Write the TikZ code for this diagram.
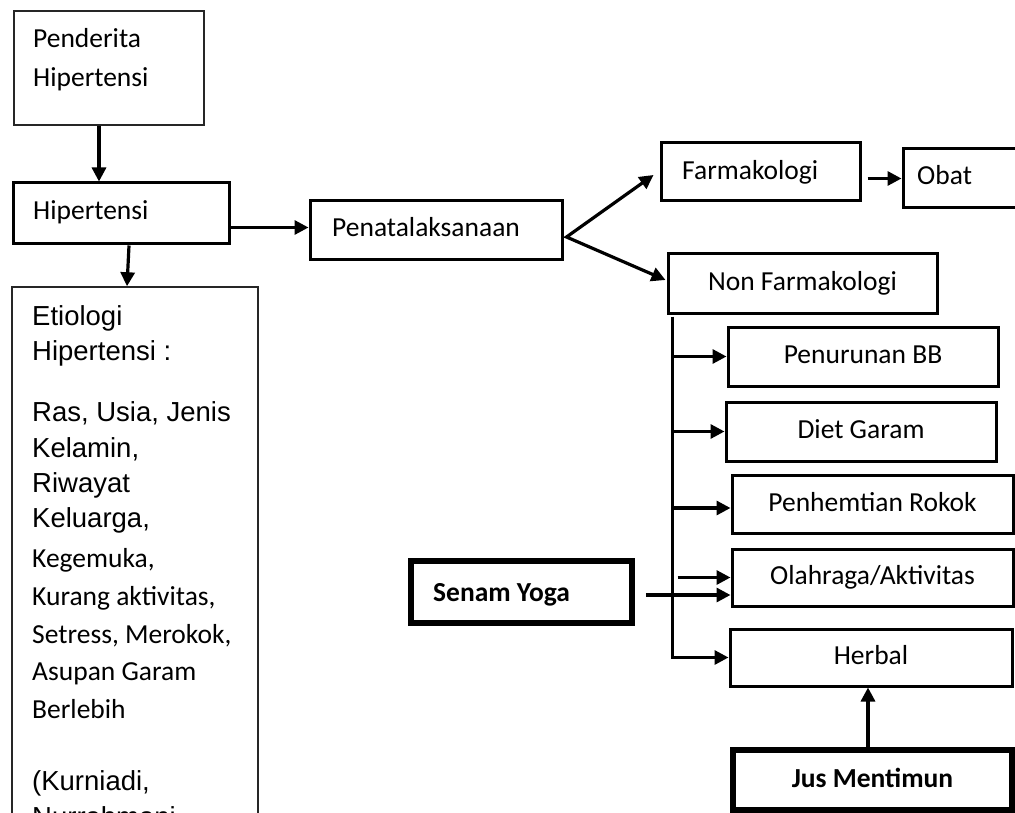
\documentclass[tikz,border=0pt]{standalone}
\usepackage{fontspec}
\setmainfont{Carlito}
\newfontfamily\arialf{Liberation Sans}
\usetikzlibrary{arrows.meta,calc}
\begin{document}
\begin{tikzpicture}[x=1pt,y=-1pt,
  font=\fontsize{27.5}{33}\selectfont,
  box/.style={draw,line width=3pt,inner sep=0pt},
  thinbox/.style={draw,black!85,line width=1.5pt,inner sep=0pt},
  thickbox/.style={draw,line width=5.5pt,inner sep=0pt},
  lbl/.style={inner sep=0pt,anchor=base west},
  mid/.style={text height=17pt,text depth=3pt},
  bf/.style={font=\fontsize{27.5}{33}\selectfont\bfseries},
  ar/.style={font=\arialf\fontsize{27.5}{33}\selectfont},
  arr/.style={line width=3.2pt,-{Triangle[length=14pt,width=14pt]}},
  arr2/.style={line width=3.2pt,{Triangle[length=14pt,width=14pt]}-{Triangle[length=14pt,width=14pt]}}
]
\useasboundingbox (0,0) rectangle (1015,813);
\clip (0,0) rectangle (1015,813);

% left column
\node[thinbox,minimum width=190pt,minimum height=114pt] (pd) at (109,68) {};
\node[lbl] (pd1) at (33,48) {Penderita};
\node[lbl] (pd2) at (33,87) {Hipertensi};

\node[box,minimum width=216pt,minimum height=61pt] (ht) at (121,213.5) {};
\node[lbl] (ht1) at (33,220) {Hipertensi};

\node[thinbox,minimum width=246pt,minimum height=700pt] (et) at (135,637) {};
\node[lbl,ar] (et1) at (32,325) {Etiologi};
\node[lbl,ar] (et2) at (32,360) {Hipertensi :};
\node[lbl,ar] (et3) at (32,421) {Ras, Usia, Jenis};
\node[lbl,ar] (et4) at (32,457) {Kelamin,};
\node[lbl,ar] (et5) at (32,492) {Riwayat};
\node[lbl,ar] (et6) at (32,527) {Keluarga,};
\node[lbl] (et7) at (32,567) {Kegemuka,};
\node[lbl] (et8) at (32,605) {Kurang aktivitas,};
\node[lbl] (et9) at (32,643) {Setress, Merokok,};
\node[lbl] (et10) at (32,680) {Asupan Garam};
\node[lbl] (et11) at (32,718) {Berlebih};
\node[lbl,ar] (et12) at (32,790) {(Kurniadi,};
\node[lbl,ar] (et13) at (32,826) {Nurrahmani};

% middle / right
\node[box,minimum width=252pt,minimum height=59pt] (pt) at (436,230.5) {};
\node[lbl] (pt1) at (332,237) {Penatalaksanaan};

\node[box,minimum width=199pt,minimum height=58pt] (fk) at (760.5,172) {};
\node[lbl] (fk1) at (682,180) {Farmakologi};

\node[box,minimum width=140pt,minimum height=59pt] (ob) at (973,178.5) {};
\node[lbl] (ob1) at (917,185) {Obat};

\node[box,mid,minimum width=269pt,minimum height=59pt] (nf) at (802.5,283.5) {Non Farmakologi};
\node[box,mid,minimum width=270pt,minimum height=59pt] (pb) at (863,356.5) {Penurunan BB};
\node[box,mid,minimum width=270pt,minimum height=59pt] (dg) at (861,431.5) {Diet Garam};
\node[box,mid,minimum width=281pt,minimum height=58pt] (pr) at (872.5,504) {Penhemtian Rokok};
\node[box,mid,minimum width=281pt,minimum height=57pt] (oa) at (872.5,577.5) {Olahraga/Aktivitas};
\node[box,mid,minimum width=282pt,minimum height=57pt] (hb) at (871,657.5) {Herbal};

\node[thickbox,minimum width=221pt,minimum height=62pt] (sy) at (521.5,592) {};
\node[lbl,bf] (sy1) at (433,601) {Senam Yoga};
\node[thickbox,mid,bf,minimum width=279pt,minimum height=60pt] (jm) at (872.5,780) {Jus Mentimun};

% connectors
\draw[arr] ($(pd.south)+(-10,0)$) -- ($(pd.south|-ht.north)+(-10,0)$);
\draw[arr] ($(ht.south)+(8,0)$) -- ($(et.north)+(-8,0)$);
\draw[arr] ($(ht.east|-pt.west)+(0,-3)$) -- ($(pt.west)+(0,-3)$);
\coordinate (fork) at ($(pt.east)+(3,6.5)$);
\draw[arr2,line join=miter] ($(fk.west)+(-6,3)$) -- (fork) -- ($(nf.west)+(-1,-3.5)$);
\draw[arr] ($(fk.east|-ob.west)+(6,0)$) -- (ob.west);

\coordinate (sp) at ($(nf.south west)+(6,2)$);
\draw[arr] (sp) |- (hb.west);
\draw[arr] (sp|-pb.west) -- (pb.west);
\draw[arr] (sp|-dg.west) -- (dg.west);
\draw[arr] ($(sp|-pr.west)+(0,4)$) -- ($(pr.west)+(0,4)$);
\draw[arr] ($(sp|-oa.west)+(5,0)$) -- (oa.west);
\draw[arr] ($(sy.east)+(11,3)$) -- ($(sy.east-|oa.west)+(0,3)$);
\draw[arr] ($(jm.north)+(-4.5,0)$) -- ($(jm.north|-hb.south)+(-4.5,0)$);
\end{tikzpicture}
\end{document}
